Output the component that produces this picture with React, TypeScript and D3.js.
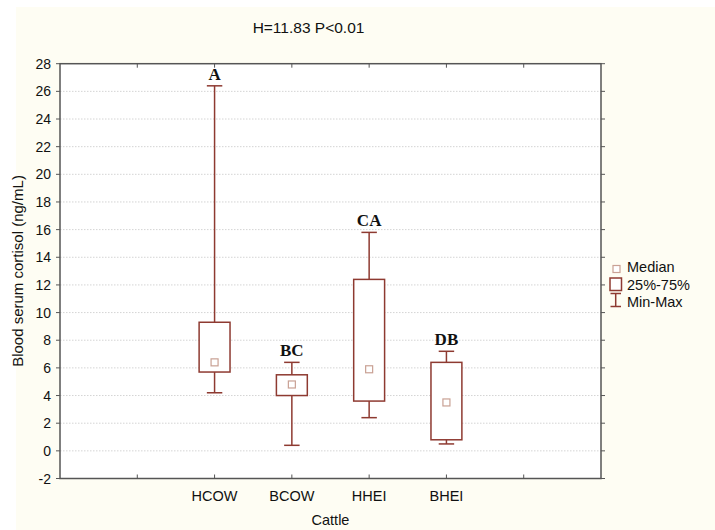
import React from "react";
import * as d3 from "d3";

const categories = ["HCOW", "BCOW", "HHEI", "BHEI"];
const minValues = [4.2, 0.4, 2.4, 0.5];
const q1Values = [5.7, 4.0, 3.6, 0.8];
const medianValues = [6.4, 4.8, 5.9, 3.5];
const q3Values = [9.3, 5.5, 12.4, 6.4];
const maxValues = [26.4, 6.4, 15.8, 7.2];
const groupLetters = ["A", "BC", "CA", "DB"];
const yTicks = [-2, 0, 2, 4, 6, 8, 10, 12, 14, 16, 18, 20, 22, 24, 26, 28];
const xTickPositions = [1, 2, 3, 4, 5, 6];
const categoryPositions = [2, 3, 4, 5];

const W = 715;
const H = 530;
const plot = { left: 60, right: 601, top: 63.7, bottom: 478.5 };
const boxColor = "#8e3a31";
const medianColor = "#c9a194";
const font = "Arial, 'Liberation Sans', sans-serif";

export default function App() {
  const x = d3.scaleLinear().domain([0, 7]).range([plot.left, plot.right]);
  const y = d3.scaleLinear().domain([-2, 28]).range([plot.bottom, plot.top]);
  const unit = x(1) - x(0);
  const boxW = unit * 0.4;
  const capW = unit * 0.2;
  const medS = 7;

  return (
    <div style={{ position: "absolute", left: 0, top: 0 }}>
      <svg width={W} height={H} style={{ display: "block" }}>
        <rect x={0} y={0} width={W} height={H} fill="#ffffff" />
        <rect x={16} y={7} width={W - 16} height={H - 7} fill="#fefdf3" />
        <rect
          x={plot.left}
          y={plot.top}
          width={plot.right - plot.left}
          height={plot.bottom - plot.top}
          fill="#ffffff"
        />
        {yTicks
          .filter((t) => t > -2 && t < 28)
          .map((t) => (
            <line
              key={"g" + t}
              x1={plot.left}
              x2={plot.right}
              y1={y(t)}
              y2={y(t)}
              stroke="#d4d4d4"
              strokeWidth={1}
              strokeDasharray="1.5,1.5"
            />
          ))}
        <rect
          x={plot.left}
          y={plot.top}
          width={plot.right - plot.left}
          height={plot.bottom - plot.top}
          fill="none"
          stroke="#555"
          strokeWidth={1.5}
        />
        {yTicks.map((t) => (
          <g key={"yt" + t}>
            <line x1={plot.left - 4} x2={plot.left} y1={y(t)} y2={y(t)} stroke="#555" strokeWidth={1} />
            <line x1={plot.right} x2={plot.right + 4} y1={y(t)} y2={y(t)} stroke="#555" strokeWidth={1} />
            <text
              x={plot.left - 9}
              y={y(t)}
              dy="0.36em"
              textAnchor="end"
              fontFamily={font}
              fontSize={14}
              fill="#111"
            >
              {t}
            </text>
          </g>
        ))}
        {xTickPositions.map((t) => (
          <g key={"xt" + t}>
            <line x1={x(t)} x2={x(t)} y1={plot.bottom} y2={plot.bottom - 4} stroke="#555" strokeWidth={1} />
            <line x1={x(t)} x2={x(t)} y1={plot.top} y2={plot.top + 4} stroke="#555" strokeWidth={1} />
          </g>
        ))}
        {categories.map((c, i) => (
          <text
            key={"xl" + c}
            x={x(categoryPositions[i])}
            y={501}
            textAnchor="middle"
            fontFamily={font}
            fontSize={14.5}
            fill="#111"
          >
            {c}
          </text>
        ))}
        {categories.map((c, i) => {
          const cx = x(categoryPositions[i]);
          return (
            <g key={"b" + c}>
              <line x1={cx} x2={cx} y1={y(maxValues[i])} y2={y(q3Values[i])} stroke={boxColor} strokeWidth={1.5} />
              <line x1={cx} x2={cx} y1={y(q1Values[i])} y2={y(minValues[i])} stroke={boxColor} strokeWidth={1.5} />
              <line
                x1={cx - capW / 2}
                x2={cx + capW / 2}
                y1={y(maxValues[i])}
                y2={y(maxValues[i])}
                stroke={boxColor}
                strokeWidth={1.5}
              />
              <line
                x1={cx - capW / 2}
                x2={cx + capW / 2}
                y1={y(minValues[i])}
                y2={y(minValues[i])}
                stroke={boxColor}
                strokeWidth={1.5}
              />
              <rect
                x={cx - boxW / 2}
                y={y(q3Values[i])}
                width={boxW}
                height={y(q1Values[i]) - y(q3Values[i])}
                fill="#ffffff"
                stroke={boxColor}
                strokeWidth={1.5}
              />
              <rect
                x={cx - medS / 2}
                y={y(medianValues[i]) - medS / 2}
                width={medS}
                height={medS}
                fill="#ffffff"
                stroke={medianColor}
                strokeWidth={1.2}
              />
              <text
                x={cx}
                y={y(maxValues[i]) - 6}
                textAnchor="middle"
                fontFamily="'Liberation Serif', 'Times New Roman', serif"
                fontWeight="bold"
                fontSize={17}
                fill="#111"
              >
                {groupLetters[i]}
              </text>
            </g>
          );
        })}
        <text x={308.5} y={33} textAnchor="middle" fontFamily={font} fontSize={15.5} fill="#111">
          H=11.83 P&lt;0.01
        </text>
        <text x={x(3.5)} y={525} textAnchor="middle" fontFamily={font} fontSize={14.5} fill="#111">
          Cattle
        </text>
        <text
          transform={`translate(23, ${271}) rotate(-90)`}
          textAnchor="middle"
          fontFamily={font}
          fontSize={15}
          fill="#111"
        >
          Blood serum cortisol (ng/mL)
        </text>
        <g>
          <rect x={613} y={265.5} width={7} height={7} fill="#fff" stroke={medianColor} strokeWidth={1.2} />
          <text x={627} y={272} fontFamily={font} fontSize={14.5} fill="#111">Median</text>
          <rect x={610} y={278} width={11.5} height={12.5} fill="#fff" stroke={boxColor} strokeWidth={1.5} />
          <text x={627} y={290} fontFamily={font} fontSize={14.5} fill="#111">25%-75%</text>
          <line x1={615.7} x2={615.7} y1={293.5} y2={306.5} stroke={boxColor} strokeWidth={1.5} />
          <line x1={610.5} x2={621} y1={293.5} y2={293.5} stroke={boxColor} strokeWidth={1.5} />
          <line x1={610.5} x2={621} y1={306.5} y2={306.5} stroke={boxColor} strokeWidth={1.5} />
          <text x={627} y={307} fontFamily={font} fontSize={14.5} fill="#111">Min-Max</text>
        </g>
      </svg>
    </div>
  );
}
